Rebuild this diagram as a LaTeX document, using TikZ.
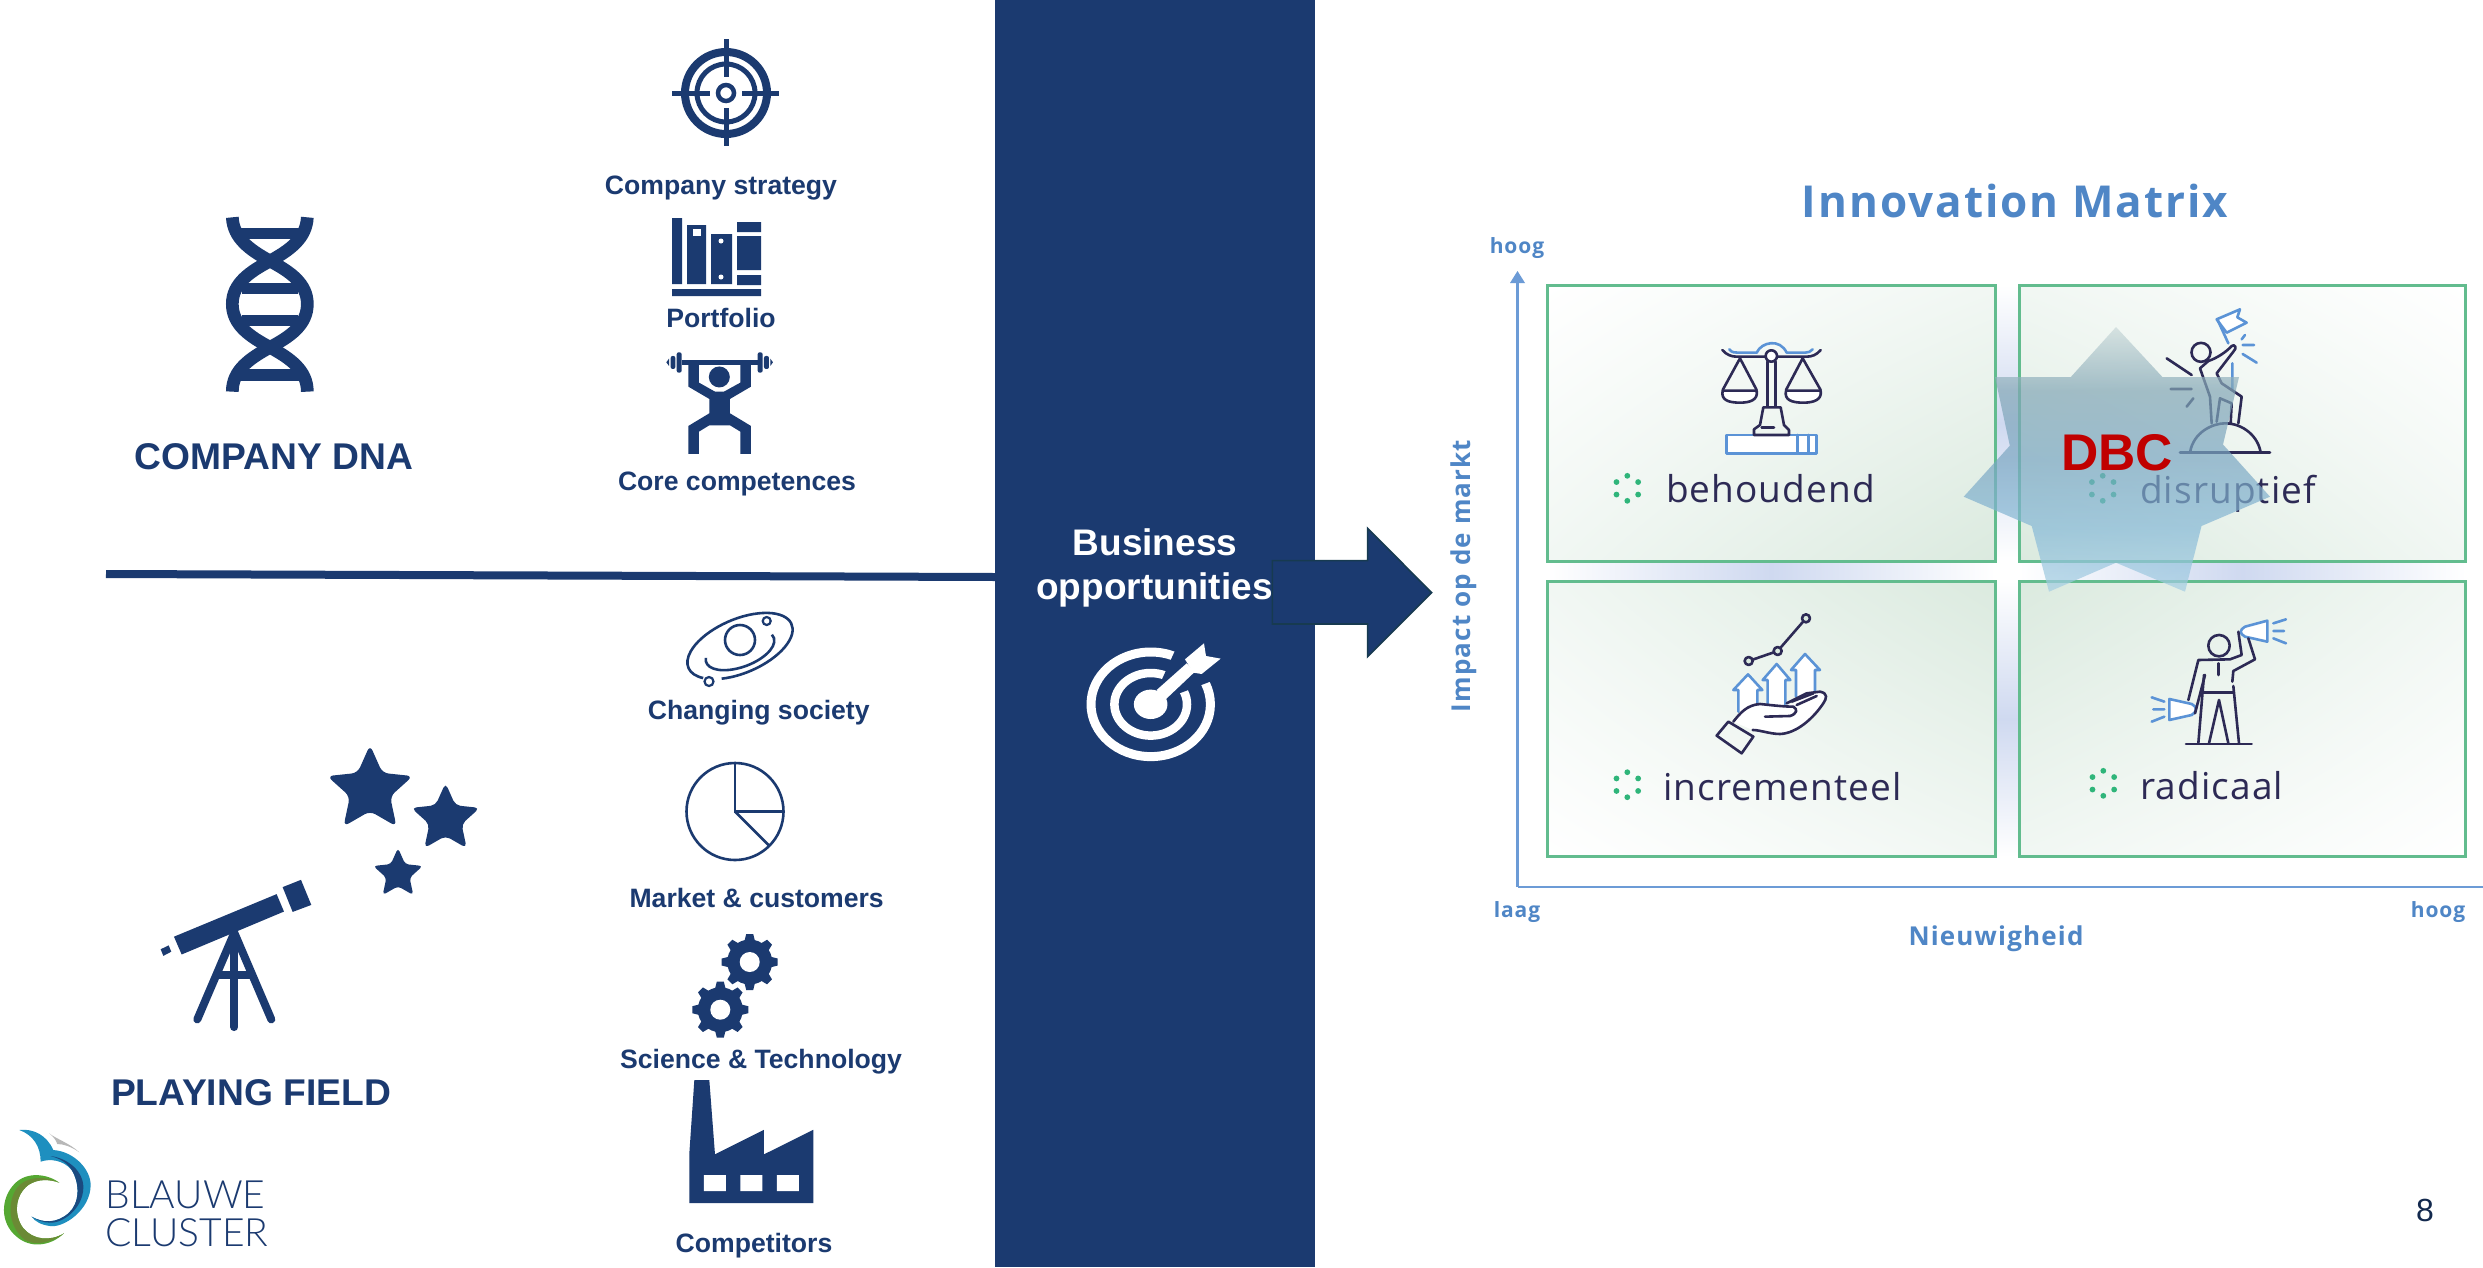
\documentclass[tikz,border=0pt]{standalone}
\usepackage{fontspec}
\setmainfont{Liberation Sans}
\newfontfamily\ofont{Open Sans}
\newfontfamily\owide[LetterSpace=4.5]{Open Sans}
\newfontfamily\otext[LetterSpace=3]{Open Sans}
\newfontfamily\lfont{Lato Light}
\usetikzlibrary{calc,shadings}
\definecolor{bcnavy}{HTML}{1B3A70}
\definecolor{arrowedge}{HTML}{173A50}
\definecolor{mblue}{HTML}{4F86C6}
\definecolor{axblue}{HTML}{6C9BD6}
\definecolor{iconblue}{HTML}{5B93D6}
\definecolor{iconink}{HTML}{2D2A55}
\definecolor{boxgreen}{HTML}{62BC8E}
\definecolor{gmax}{HTML}{DBEADF}
\definecolor{gmid}{HTML}{F1F7F3}
\definecolor{lav}{HTML}{CFD9F0}
\definecolor{dotgreen}{HTML}{2FB57A}
\definecolor{dbcred}{HTML}{C00000}
\definecolor{stA}{HTML}{A6CFE3}
\definecolor{stB}{HTML}{85B8D6}
\definecolor{stC}{HTML}{7AA6C2}
\definecolor{stD}{HTML}{82A6B5}
\definecolor{stE}{HTML}{CAD9D9}
\definecolor{lgA}{HTML}{1E8FBF}
\definecolor{lgB}{HTML}{1A4A80}
\definecolor{lgC}{HTML}{55A832}
\definecolor{lgD}{HTML}{6B8A35}
\definecolor{lgE}{HTML}{B8B8B8}
\pgfdeclareverticalshading{starshade}{100bp}{color(0bp)=(stA);color(25bp)=(stA);color(37bp)=(stB);color(50bp)=(stC);color(63bp)=(stD);color(75bp)=(stE);color(100bp)=(stE)}
\newcommand\fs[1]{\fontsize{#1pt}{#1pt}\selectfont}
\newcommand\rstar[4]{\fill[bcnavy,rounded corners=#4pt]
  ([shift={(90:#3pt)}]#1,#2) -- ([shift={(54:0.47*#3pt)}]#1,#2) -- ([shift={(18:#3pt)}]#1,#2) -- ([shift={(-18:0.47*#3pt)}]#1,#2)
  -- ([shift={(-54:#3pt)}]#1,#2) -- ([shift={(-90:0.47*#3pt)}]#1,#2) -- ([shift={(-126:#3pt)}]#1,#2) -- ([shift={(-162:0.47*#3pt)}]#1,#2)
  -- ([shift={(162:#3pt)}]#1,#2) -- ([shift={(126:0.47*#3pt)}]#1,#2) -- cycle;}
\newcommand\gearicon[2]{\begin{scope}[shift={(#1pt,-#2pt)}]
  \fill[bcnavy] (0pt,0pt) circle[radius=22.5pt];
  \foreach \a in {0,45,...,315}{\fill[bcnavy,rotate=\a] (-6pt,18pt) -- (-3.5pt,28pt) -- (3.5pt,28pt) -- (6pt,18pt) -- cycle;}
  \fill[white] (0pt,0pt) circle[radius=10pt];
\end{scope}}
\newcommand\sixdots[2]{\foreach \a in {90,30,-30,-90,-150,150}{\fill[dotgreen] ([shift={(\a:12.5pt)}]#1,#2) circle[radius=2.9pt];}}
\tikzset{
  zm/.style n args={4}{x=#3pt,y=-#4pt,shift={(#1pt,-#2pt)}},
  lbl/.style={inner sep=0pt,outer sep=0pt,anchor=base,text=bcnavy,font=\bfseries\fs{26.6}},
  big/.style={lbl,font=\bfseries\fs{37.2}},
  word/.style={inner sep=0pt,outer sep=0pt,anchor=base west,text=iconink,font=\otext\fs{37}},
  axlbl/.style={inner sep=0pt,outer sep=0pt,anchor=base,text=mblue,font=\owide\bfseries\fs{21}},
  mbox/.style={draw=boxgreen,line width=3pt},
  ink/.style={draw=iconink,line width=2.6pt,line cap=round,line join=round},
  iblue/.style={draw=iconblue,line width=2.6pt,line cap=round,line join=round},
}
\begin{document}
\begin{tikzpicture}[x=1pt,y=-1pt]
\useasboundingbox (0,0) rectangle (2483,1267);
\fill[white] (0,0) rectangle (2483,1267);

% central band
\node[fill=bcnavy,minimum width=320pt,minimum height=1267pt,inner sep=0pt,outer sep=0pt] (band) at (1155,633.5) {};
\coordinate (ruleA) at (106,574);
\coordinate (ruleB) at (996,577);
\draw[bcnavy,line width=8pt] (ruleA) -- (ruleB);

% Company DNA icon
\begin{scope}[zm={200}{200}{0.3333}{0.3333}]
\foreach \s/\t in {118/84,125/248,125/345,118/508}{\fill[bcnavy] (\s,\t) rectangle (420-\s,\t+34);}
\draw[bcnavy,line width=12.7pt] (97,52) .. controls (100,115) and (150,150) .. (210,183) .. controls (270,215) and (322,250) .. (322,312) .. controls (322,375) and (270,410) .. (210,442) .. controls (150,475) and (97,510) .. (97,575);
\draw[bcnavy,line width=12.7pt] (322,52) .. controls (319,115) and (270,150) .. (210,183) .. controls (150,215) and (97,250) .. (97,312) .. controls (97,375) and (150,410) .. (210,442) .. controls (270,475) and (322,510) .. (322,575);
\end{scope}
\node[big] (dna) at (274,469) {COMPANY DNA};

% crosshair
\draw[bcnavy,line width=8pt] (726,93) circle[radius=41pt];
\draw[bcnavy,line width=5pt] (726,93) circle[radius=29pt];
\draw[bcnavy,line width=4.5pt] (726,93) circle[radius=8pt];
\draw[bcnavy,line width=5pt] (672,93) -- (710,93) (742,93) -- (779,93) (726,39) -- (726,77) (726,108) -- (726,146);
\node[lbl] (strategy) at (721,194) {Company strategy};

% books
\fill[bcnavy] (672,218) rectangle (682,284) (687,225) rectangle (706,284) (711,234) rectangle (732,284)
  (737,222) rectangle (761,232) (737,236) rectangle (761,270) (737,275) rectangle (761,285) (672,289) rectangle (761,296);
\fill[white] (693,229) rectangle (701,236);
\fill[white] (721,241) circle[radius=2.5pt] (721,277) circle[radius=2.5pt];
\node[lbl] (portfolio) at (721,327) {Portfolio};

% weightlifter
\begin{scope}[zm={600}{0}{0.3333}{0.3333}]
\fill[bcnavy] (245,1080) rectangle (475,1095);
\fill[bcnavy,rounded corners=2pt] (230,1057) rectangle (245,1118) (473,1057) rectangle (488,1118) (212,1068) rectangle (226,1107) (492,1068) rectangle (507,1107);
\fill[bcnavy] (199,1087) -- (207,1076) -- (207,1098) -- cycle (519,1087) -- (511,1076) -- (511,1098) -- cycle;
\fill[bcnavy] (358,1131) circle[radius=10.5pt];
\fill[bcnavy] (265,1095) -- (297,1095) -- (297,1148) -- (345,1175) -- (372,1175) -- (421,1148) -- (421,1095) -- (453,1095) -- (453,1160) -- (390,1197) -- (390,1240) -- (453,1278) -- (453,1362) -- (421,1362) -- (421,1295) -- (390,1276) -- (328,1276) -- (297,1295) -- (297,1362) -- (265,1362) -- (265,1278) -- (328,1240) -- (328,1197) -- (265,1160) -- cycle;
\end{scope}
\node[lbl] (core) at (737,490) {Core competences};

% planet
\draw[bcnavy,line width=2.6pt,rotate around={23:(740,646)}] (740,646) ++(238:56pt and 27pt) arc[start angle=238,end angle=574,x radius=56pt,y radius=27pt];
\draw[bcnavy,line width=2.6pt,rotate around={20:(740,650)}] (740,650) ++(165:36pt and 17pt) arc[start angle=165,end angle=372,x radius=36pt,y radius=17pt];
\draw[bcnavy,line width=2.6pt] (740,640) circle[radius=15pt];
\draw[bcnavy,line width=2.2pt] (709,681.5) circle[radius=4.5pt];
\draw[bcnavy,line width=2.2pt] (766.7,621) circle[radius=4pt];
\node[lbl] (society) at (758.8,719) {Changing society};

% pie
\draw[bcnavy,line width=2.6pt] (735,811.5) circle[radius=48.5pt];
\draw[bcnavy,line width=2.6pt,line join=miter] (735,763) -- (735,811.5) -- (783.5,811.5);
\draw[bcnavy,line width=2.6pt] (735,811.5) -- (768.5,845);
\node[lbl] (market) at (756.7,907) {Market \& customers};

% gears
\gearicon{749.7}{962}
\gearicon{720.3}{1009.7}
\node[lbl] (science) at (761,1068) {Science \& Technology};

% factory
\begin{scope}[zm={600}{590}{0.3333}{0.4318}]
\fill[bcnavy] (268,1420) -- (268,1305) -- (283,1135) -- (328,1135) -- (345,1307) -- (492,1250) -- (492,1307) -- (640,1250) -- (640,1420) -- cycle;
\fill[white] (312,1355) rectangle (378,1392) (421,1355) rectangle (487,1392) (531,1355) rectangle (597,1392);
\end{scope}
\node[lbl] (competitors) at (754,1252) {Competitors};

% telescope and stars
\begin{scope}[zm={0}{720}{0.3333}{0.3489}]
\fill[bcnavy] (522,621) -- (830,499) -- (852,549) -- (545,672) -- cycle;
\fill[bcnavy] (848,479) -- (903,458) -- (934,530) -- (878,550) -- cycle;
\fill[bcnavy] (482,657) -- (506,646) -- (514,664) -- (490,676) -- cycle;
\draw[bcnavy,line width=8pt,line cap=round] (703,610) -- (592,858) (703,610) -- (814,858);
\draw[bcnavy,line width=8pt,line cap=round] (703,610) -- (703,880);
\draw[bcnavy,line width=8pt] (655,732) -- (752,732);
\end{scope}
\rstar{370}{790}{45}{6}
\rstar{445.5}{819}{36}{5}
\rstar{398}{874}{26}{3.5}
\node[big] (field) at (251,1105.5) {PLAYING FIELD};

% logo
\begin{scope}[zm={0}{1120}{0.3333}{0.3333}]
\fill[lgE] (148,40) .. controls (165,55) and (210,70) .. (238,97) .. controls (215,80) and (190,72) .. (172,72) .. controls (168,60) and (160,50) .. (148,40) -- cycle;
\fill[lgA] (58,30) .. controls (100,25) and (140,45) .. (160,90) .. controls (225,95) and (272,150) .. (272,195) .. controls (272,270) and (190,325) .. (150,318) .. controls (125,315) and (105,305) .. (95,290) .. controls (130,310) and (170,310) .. (205,280) .. controls (240,250) and (240,190) .. (215,150) .. controls (190,120) and (150,115) .. (122,125) .. controls (122,80) and (100,45) .. (58,30) -- cycle;
\fill[lgB] (152,108) .. controls (205,115) and (252,155) .. (250,205) .. controls (248,265) and (190,310) .. (150,308) .. controls (130,308) and (110,300) .. (95,290) .. controls (130,310) and (170,310) .. (205,280) .. controls (240,250) and (240,190) .. (215,150) .. controls (200,125) and (175,115) .. (152,108) -- cycle;
\fill[lgC] (178,188) .. controls (140,160) and (80,155) .. (45,190) .. controls (0,235) and (0,310) .. (50,350) .. controls (90,385) and (150,380) .. (192,340) .. controls (150,365) and (100,360) .. (70,325) .. controls (40,285) and (45,225) .. (85,195) .. controls (115,175) and (150,178) .. (178,188) -- cycle;
\fill[lgD] (178,188) .. controls (130,165) and (75,170) .. (50,205) .. controls (20,250) and (25,320) .. (75,360) .. controls (110,380) and (160,365) .. (192,340) .. controls (150,365) and (100,360) .. (70,325) .. controls (40,285) and (45,225) .. (85,195) .. controls (115,175) and (150,178) .. (178,188) -- cycle;
\end{scope}
\node[inner sep=0pt,outer sep=0pt,anchor=base west,text=bcnavy,font=\lfont\fs{39}] (logoA) at (105.5,1208) {BLAUWE};
\node[inner sep=0pt,outer sep=0pt,anchor=base west,text=bcnavy,font=\lfont\fs{39}] (logoB) at (105.5,1246) {CLUSTER};

% band text and target
\node[inner sep=0pt,anchor=base,text=white,font=\bfseries\fs{37}] (bizA) at (1155,555) {Business};
\node[inner sep=0pt,anchor=base,text=white,font=\bfseries\fs{37}] (bizB) at (1154.5,599) {opportunities};
\draw[white,line width=9pt] (1150.7,704.3) ellipse[x radius=59.7pt,y radius=52.3pt];
\draw[white,line width=8.5pt] (1150.7,704.3) ellipse[x radius=36.3pt,y radius=31.3pt];
\begin{scope}[zm={1000}{500}{0.3333}{0.3333}]
\fill[bcnavy] (452,613) -- (535,430) -- (670,530) -- cycle;
\fill[white] (452,613) ellipse[x radius=16.8pt,y radius=14.7pt];
\fill[white] (470,570) -- (560,490) -- (585,515) -- (495,600) -- cycle;
\fill[white] (555,478) -- (612,430) -- (618,468) -- (662,476) -- (605,522) -- (580,518) -- cycle;
\end{scope}

% arrow
\begin{scope}[zm={1000}{500}{0.3333}{0.3333}]
\draw[fill=bcnavy,draw=arrowedge,line width=1.6pt] (817,182) -- (1103,182) -- (1103,85) -- (1295,278) -- (1103,470) -- (1103,372) -- (817,372) -- cycle;
\end{scope}

% matrix
\node[inner sep=0pt,anchor=base,text=mblue,font=\owide\bfseries\fs{44}] (mtitle) at (2015,217.5) {Innovation Matrix};
\shade[top color=white,bottom color=white,middle color=lav] (1995,285) rectangle (2019,561);
\shade[top color=white,bottom color=white,middle color=lav] (1995,581) rectangle (2019,857);
\shade[left color=white,right color=white,middle color=lav] (1547,561) rectangle (1995,581);
\shade[left color=white,right color=white,middle color=lav] (2019,561) rectangle (2466,581);

\shade[upper left=white,upper right=gmid,lower left=gmid,lower right=gmax] (1547.5,285.5) rectangle (1995,561);
\shade[upper left=gmid,upper right=white,lower left=gmax,lower right=gmid] (2019,285.5) rectangle (2465.5,561);
\shade[upper left=gmid,upper right=gmax,lower left=white,lower right=gmid] (1547.5,581.5) rectangle (1995,856.5);
\shade[upper left=gmax,upper right=gmid,lower left=gmid,lower right=white] (2019,581.5) rectangle (2465.5,856.5);
\draw[mbox] (1547.5,285.5) rectangle (1995,561);
\draw[mbox] (2019,285.5) rectangle (2465.5,561);
\draw[mbox] (1547.5,581.5) rectangle (1995,856.5);
\draw[mbox] (2019,581.5) rectangle (2465.5,856.5);

\coordinate (axO) at (1517.5,887);
\coordinate (axY) at (1517.5,271);
\coordinate (axX) at (2490,887);
\draw[axblue,line width=2.6pt] (axO) -- (1517.5,280);
\fill[axblue] (axY) -- (1525,283) -- (1510,283) -- cycle;
\draw[axblue,line width=2.6pt] (axO) -- (axX);
\node[axlbl] (hoogY) at (1517,253) {hoog};
\node[axlbl] (laag) at (1517,917.5) {laag};
\node[axlbl] (hoogX) at (2438,917.5) {hoog};
\node[axlbl,font=\owide\bfseries\fs{26}] (nieuw) at (1996,945.5) {Nieuwigheid};
\node[inner sep=0pt,outer sep=0pt,text=mblue,font=\owide\bfseries\fs{26},rotate=90] (impact) at (1464,576) {Impact op de markt};

% behoudend
\begin{scope}[zm={1590}{320}{0.3333}{0.3333}]
\draw[iblue] (418,88) .. controls (425,98) and (435,98) .. (445,98) -- (500,98) .. controls (515,65) and (570,55) .. (590,98) -- (645,98) .. controls (655,98) and (662,95) .. (668,88);
\fill[white] (400,212) -- (498,212) .. controls (503,238) and (480,248) .. (450,248) .. controls (418,248) and (394,238) .. (400,212) -- cycle;
\fill[white] (590,212) -- (690,212) .. controls (693,238) and (670,248) .. (640,248) .. controls (608,248) and (584,238) .. (590,212) -- cycle;
\draw[iblue,fill=white] (410,345) rectangle (680,400);
\draw[iblue] (622,345) -- (622,400) (655,345) -- (655,400);
\draw[ink] (397,90) .. controls (410,105) and (425,110) .. (440,110) -- (525,110) (565,110) -- (650,110) .. controls (665,110) and (680,105) .. (692,90);
\draw[ink,fill=white] (544,108) circle[radius=5.7pt];
\draw[ink] (533,125) -- (533,260) (556,125) -- (556,260);
\draw[ink] (520,262) -- (572,262) -- (582,315) -- (597,330) -- (597,345) -- (492,345) -- (492,328) -- (510,315) -- cycle;
\draw[ink] (515,322) -- (552,322);
\draw[ink] (450,115) -- (398,210) (450,115) -- (500,210);
\draw[ink] (398,212) -- (500,212) .. controls (505,240) and (480,248) .. (450,248) .. controls (415,248) and (392,240) .. (398,212) -- cycle;
\draw[ink] (638,115) -- (588,210) (638,115) -- (692,210);
\draw[ink] (588,212) -- (692,212) .. controls (697,240) and (670,248) .. (640,248) .. controls (605,248) and (582,240) .. (588,212) -- cycle;
\end{scope}
\sixdots{1627.3}{488.3}
\node[word] (behoudend) at (1666,502.5) {behoudend};

% disruptief
\begin{scope}[zm={2000}{280}{0.3333}{0.3333}]
\draw[iblue,fill=white] (650,118) -- (720,88) -- (712,112) -- (740,128) -- (680,158) -- cycle;
\draw[iblue] (652,118) -- (685,190) (697,250) -- (697,330) (725,178) -- (735,165) (728,195) -- (762,195) (728,222) -- (770,248);
\draw[ink] (603,217) circle[radius=9.5pt];
\draw[ink] (625,243) .. controls (650,235) and (680,215) .. (695,198) .. controls (705,190) and (712,205) .. (700,215) -- (650,280) -- (665,310) -- (725,350) -- (715,430);
\draw[ink] (625,243) -- (600,265) -- (630,350) -- (635,430);
\draw[ink] (650,425) -- (660,355) -- (695,370) -- (692,430);
\draw[ink] (570,518) .. controls (580,455) and (640,430) .. (675,430) .. controls (730,430) and (775,470) .. (782,518);
\draw[ink] (540,518) -- (810,518);
\draw[ink] (500,235) -- (575,285) (512,327) -- (575,327) (560,380) -- (580,355);
\end{scope}
\sixdots{2102.7}{488.3}
\node[word] (disruptief) at (2140,503) {disruptief};

% incrementeel
\begin{scope}[zm={1600}{590}{0.3333}{0.3333}]
\foreach \tx/\ty/\lx/\rx/\by/\yw in {444/253/415/472/365/300, 530/222/503/556/345/270, 615/192/588/645/320/240}{
  \draw[iblue,fill=white] (\lx,\by) -- (\lx,\yw) -- (\lx-15,\yw) -- (\tx,\ty) -- (\rx+15,\yw) -- (\rx,\yw) -- (\rx,\by);
}
\fill[white] (400,395) .. controls (420,370) and (440,345) .. (480,342) .. controls (510,345) and (550,350) .. (580,340) -- (620,310) -- (660,305) .. controls (685,310) and (680,325) .. (670,340) .. controls (640,385) and (590,430) .. (540,432) .. controls (510,432) and (480,420) .. (458,420) -- cycle;
\draw[ink] (400,395) .. controls (420,370) and (440,345) .. (480,342) .. controls (510,345) and (550,350) .. (580,350);
\draw[ink] (560,340) -- (620,310) -- (660,305) .. controls (685,310) and (680,325) .. (670,340) .. controls (640,385) and (590,430) .. (540,432) .. controls (510,432) and (480,420) .. (458,420);
\draw[ink] (580,350) .. controls (595,358) and (590,372) .. (570,378) -- (495,380);
\draw[ink] (575,335) -- (640,310) (590,345) -- (650,318);
\draw[ink] (385,395) -- (460,440) -- (425,490) -- (350,437) -- cycle;
\draw[ink] (446,213) -- (533,183) -- (618,85);
\draw[ink,fill=gmax] (446,213) circle[radius=4pt] (533,183) circle[radius=4pt] (618,85) circle[radius=4pt];
\end{scope}
\sixdots{1627.3}{784.7}
\node[word] (incrementeel) at (1663,800) {incrementeel};

% radicaal
\begin{scope}[zm={2060}{600}{0.3333}{0.3333}]
\draw[iblue,fill=white] (622,62) -- (622,125) -- (555,110) .. controls (538,100) and (538,90) .. (555,80) -- cycle;
\draw[iblue] (640,70) -- (678,58) (640,93) -- (672,93) (640,115) -- (678,130);
\draw[iblue,fill=white] (328,297) -- (328,360) -- (395,345) .. controls (412,335) and (412,320) .. (395,312) -- cycle;
\draw[iblue] (313,305) -- (275,292) (313,328) -- (280,328) (313,350) -- (275,365);
\draw[ink] (477,137) circle[radius=10.7pt];
\draw[ink] (385,300) -- (415,180) -- (510,178) -- (545,165) -- (535,95);
\draw[ink] (565,115) -- (585,178) -- (520,213) -- (517,245);
\draw[ink] (435,225) -- (405,340);
\draw[ink] (475,190) -- (475,225);
\draw[ink] (432,278) -- (520,278);
\draw[ink] (432,225) -- (415,430) (520,258) -- (537,430);
\draw[ink] (447,430) -- (477,300) -- (505,430);
\draw[ink] (378,432) -- (575,432);
\end{scope}
\sixdots{2103.3}{783.3}
\node[word] (radicaal) at (2140.5,799.5) {radicaal};

% star and DBC
\shade[shading=starshade,fill opacity=0.7]
 (2116,327) -- (2162.4,377) -- (2239,377) -- (2223,444.5) -- (2270,496.7) -- (2201.5,526) -- (2185,591.7) -- (2116,562.7) -- (2049,591.7) -- (2031.7,526) -- (1963.7,496.7) -- (2009.8,445.7) -- (1995,377) -- (2070.8,377) -- cycle;
\node[inner sep=0pt,anchor=base,text=dbcred,font=\bfseries\fs{51.6}] (dbc) at (2117,470.5) {DBC};

% page number
\node[inner sep=0pt,anchor=base,text=bcnavy!70!black,font=\fs{32}] (pagenum) at (2425,1221) {8};
\end{tikzpicture}
\end{document}
